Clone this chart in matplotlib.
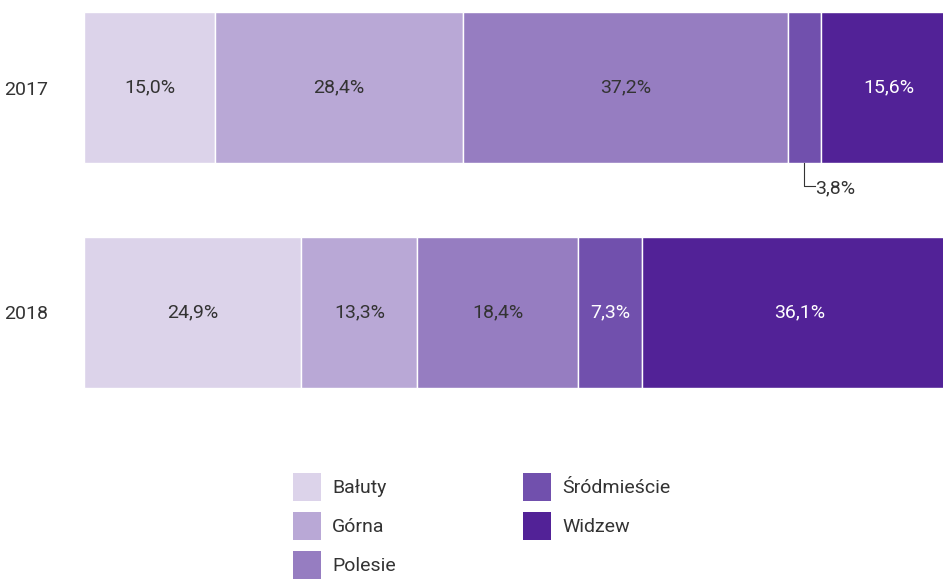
import numpy as np
import matplotlib.pyplot as plt
from matplotlib.patches import Rectangle

plt.rcParams['font.family'] = ['Roboto', 'DejaVu Sans']

years = ['2017', '2018']
districts = ['Bałuty', 'Górna', 'Polesie', 'Śródmieście', 'Widzew']
shares_2017 = [15.0, 28.4, 37.2, 3.8, 15.6]
shares_2018 = [24.9, 13.3, 18.4, 7.3, 36.1]
colors = ['#dcd3ea', '#b9a8d6', '#967dc1', '#7150ad', '#522297']
text_colors = ['#333333', '#333333', '#333333', 'white', 'white']

data = np.array([shares_2017, shares_2018])

W, H = 943, 580
fig = plt.figure(figsize=(W / 100, H / 100), dpi=100)
# the plot area runs past the right edge of the picture (bars are cut off)
ax = fig.add_axes([84 / W, 1 - 400 / H, 873 / W, 400 / H])

ypos = np.arange(len(years))
left = np.zeros(len(years))
for i, name in enumerate(districts):
    ax.barh(ypos, data[:, i], left=left, height=0.675, color=colors[i],
            edgecolor='white', linewidth=1, label=name)
    for j in range(len(years)):
        val = data[j, i]
        lbl = f'{val:.1f}%'.replace('.', ',')
        cx = left[j] + val / 2
        if val < 5:
            # small segment: label below with leader line
            y0 = ypos[j] + 0.675 / 2
            ax.plot([cx, cx, cx + 1.2], [y0, y0 + 0.1, y0 + 0.1],
                    color='#333333', lw=0.8, clip_on=False)
            ax.text(cx + 1.3, y0 + 0.11, lbl, ha='left', va='center',
                    fontsize=14, color='#333333')
        else:
            ax.text(cx, ypos[j], lbl, ha='center', va='center',
                    fontsize=14, color=text_colors[i])
    left += data[:, i]

ax.set_xlim(0, 100)
ax.set_ylim(1.389, -0.389)
ax.set_yticks(ypos)
ax.set_yticklabels(years, fontsize=14, color='#333333')
ax.tick_params(axis='y', length=0, pad=26)
ax.set_xticks([])
for s in ax.spines.values():
    s.set_visible(False)

# legend, two columns (3 + 2)
col_x = [293, 523]
row_y = [473, 512, 551]
for k, name in enumerate(districts):
    c, r = divmod(k, 3)
    x, y = col_x[c], row_y[r]
    fig.patches.append(Rectangle((x / W, 1 - (y + 28) / H), 28 / W, 28 / H,
                                 transform=fig.transFigure,
                                 facecolor=colors[k], edgecolor='none'))
    fig.text((x + 39) / W, 1 - (y + 15) / H, name, ha='left', va='center',
             fontsize=14, color='#333333')

fig.savefig('out.png', dpi=100)
